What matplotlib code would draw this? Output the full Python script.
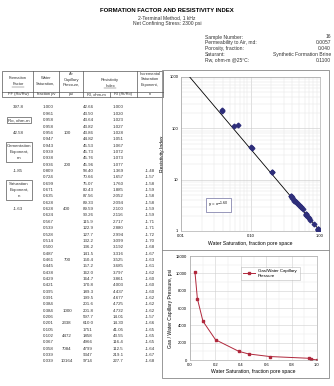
import numpy as np
import matplotlib.pyplot as plt
from matplotlib.patches import Rectangle
from matplotlib.lines import Line2D
from matplotlib.ticker import FixedLocator, NullFormatter, LogLocator

plt.rcParams['font.family'] = ['Liberation Sans', 'DejaVu Sans']

# table data
sw = [1.000, 0.961, 0.958, 0.958, 0.956, 0.947, 0.943, 0.939, 0.938, 0.936,
      0.809, 0.724, 0.699, 0.671, 0.635, 0.628, 0.628, 0.624,
      0.567, 0.539, 0.528, 0.514, 0.500, 0.487, 0.461, 0.445, 0.438, 0.429, 0.421,
      0.395, 0.391, 0.384, 0.384,
      0.206, 0.201, 0.105, 0.102, 0.067, 0.058, 0.039, 0.039]
pc = ['', '', '', '', '100', '', '', '', '', '200',
      '', '', '', '', '', '', '400', '',
      '', '', '', '', '', '', '700', '', '', '', '',
      '', '', '', '1000',
      '', '2338', '', '4472', '', '7084', '', '10164']
rt = ['42.66', '43.50', '43.64', '43.82', '43.86', '44.82', '45.53', '45.73', '45.76', '45.96',
      '58.40', '70.66', '75.07', '80.43', '87.56', '89.33', '89.59', '90.26',
      '115.9', '122.9', '127.7', '132.2', '136.2', '141.5', '150.4', '157.2', '162.0', '164.7', '170.8',
      '189.3', '199.5', '201.6', '201.8',
      '597.7', '610.0', '1751', '1858', '4966', '4799', '9347', '9714']
ri = [1.000, 1.020, 1.023, 1.027, 1.028, 1.051, 1.067, 1.072, 1.073, 1.077,
      1.369, 1.657, 1.760, 1.885, 2.052, 2.094, 2.100, 2.116,
      2.717, 2.880, 2.994, 3.099, 3.192, 3.316, 3.525, 3.685, 3.797, 3.861, 4.003,
      4.437, 4.677, 4.725, 4.732,
      14.01, 14.30, 41.05, 43.55, 116.4, 112.5, 219.1, 227.7]
ri_txt = ['1.000', '1.020', '1.023', '1.027', '1.028', '1.051', '1.067', '1.072', '1.073', '1.077',
          '1.369', '1.657', '1.760', '1.885', '2.052', '2.094', '2.100', '2.116',
          '2.717', '2.880', '2.994', '3.099', '3.192', '3.316', '3.525', '3.685', '3.797', '3.861', '4.003',
          '4.437', '4.677', '4.725', '4.732',
          '14.01', '14.30', '41.05', '43.55', '116.4', '112.5', '219.1', '227.7']
n_inc = [''] * 10 + ['-1.48', '-1.57', '-1.58', '-1.59', '-1.58', '-1.58', '-1.59', '-1.59',
                     '-1.71', '-1.71', '-1.72', '-1.70', '-1.68', '-1.67', '-1.63', '-1.61', '-1.62', '-1.60', '-1.60',
                     '-1.60', '-1.62', '-1.62', '-1.62',
                     '-1.57', '-1.66', '-1.65', '-1.65', '-1.65', '-1.64', '-1.67', '-1.68']

# capillary pressure curve
cap_sw = [0.039, 0.058, 0.102, 0.201, 0.384, 0.461, 0.628, 0.936, 0.956, 1.000]
cap_pc = [10164, 7084, 4472, 2338, 1000, 700, 400, 200, 100, 0]

n_exp = 1.60
info_labels = ['Sample Number:', 'Permeability to Air, md:', 'Porosity, fraction:',
               'Saturant:', 'Rw, ohm-m @25\u00b0C:']
info_values = ['16', '0.0057', '0.040', 'Synthetic Formation Brine', '0.1100']

W, H = 334, 386
fig = plt.figure(figsize=(W / 100, H / 100), dpi=100)
TC = '#333333'


def px(x, y):
    return x / W, 1 - y / H


def txt(x, y, s, size=3.2, ha='left', **kw):
    kw.setdefault('color', TC)
    fig.text(*px(x, y), s, fontsize=size, ha=ha, va='center', **kw)


def hline(x0, x1, y, c='#555555', lw=0.5):
    fig.add_artist(Line2D([x0 / W, x1 / W], [1 - y / H, 1 - y / H], color=c, lw=lw))


def vline(x, y0, y1, c='#555555', lw=0.5):
    fig.add_artist(Line2D([x / W, x / W], [1 - y0 / H, 1 - y1 / H], color=c, lw=lw))


def box(x0, y0, x1, y1, c='#555555', lw=0.5):
    fig.add_artist(Rectangle(px(x0, y1), (x1 - x0) / W, (y1 - y0) / H,
                             fill=False, ec=c, lw=lw))


# titles
txt(167, 11, 'FORMATION FACTOR AND RESISTIVITY INDEX', size=4.3, ha='center',
    weight='bold', color='black')
txt(167, 18, '2-Terminal Method, 1 kHz', size=3.6, ha='center')
txt(167, 24, 'Net Confining Stress: 2300 psi', size=3.6, ha='center')

for i, (lab, val) in enumerate(zip(info_labels, info_values)):
    txt(205, 37 + i * 5.8, lab, size=3.6)
    txt(331, 37 + i * 5.8, val, size=3.6, ha='right')

# table header
box(2, 71, 163, 97)
for x in [33, 59, 83, 137]:
    vline(x, 71, 97)
hline(2, 163, 91.5)
vline(110, 91.5, 97)
hs = 2.9
txt(18, 78, 'Formation', hs, 'center')
txt(18, 84, 'Factor', hs, 'center')
hline(12, 24, 86.5, c='#444444', lw=0.3)
txt(18, 94.3, 'FF (Ro/Rw)', hs, 'center')
txt(46, 78, 'Water', hs, 'center')
txt(46, 84, 'Saturation,', hs, 'center')
txt(46, 94.3, 'fraction pv', hs, 'center')
txt(71, 74, 'Air', hs, 'center')
txt(71, 79.5, 'Capillary', hs, 'center')
txt(71, 85, 'Pressure,', hs, 'center')
txt(71, 94.3, 'psi', hs, 'center')
txt(110, 80, 'Resistivity', hs, 'center')
txt(110, 86, 'Index', hs, 'center')
hline(104, 116, 88.3, c='#444444', lw=0.3)
txt(96.5, 94.3, 'RI, ohm-m', hs, 'center')
txt(123.5, 94.3, 'RI (Rt/Ro)', hs, 'center')
txt(150, 74, 'Incremental', hs, 'center')
txt(150, 79.5, 'Saturation', hs, 'center')
txt(150, 85, 'Exponent,', hs, 'center')
txt(150, 94.3, 'n', hs, 'center')

# table rows
y0, dy = 107.5, 6.35
for i in range(len(sw)):
    y = y0 + i * dy
    txt(43, y, '%.3f' % sw[i])
    txt(67, y, pc[i], ha='center')
    txt(83, y, rt[i])
    txt(113, y, ri_txt[i])
    txt(145, y, n_inc[i])

# left column summary
txt(18, y0, '397.8', ha='center')
box(7, y0 + 2 * dy - 3.2, 31, y0 + 2 * dy + 3.2)
txt(19, y0 + 2 * dy, 'Ro, ohm-m', ha='center')
txt(18, y0 + 4 * dy, '42.58', ha='center')
box(6, y0 + 6 * dy - 3.5, 32, y0 + 8 * dy + 3.5)
txt(19, y0 + 6 * dy, 'Cementation', ha='center')
txt(19, y0 + 7 * dy, 'Exponent,', ha='center')
txt(19, y0 + 8 * dy, 'm', ha='center')
txt(18, y0 + 10 * dy, '-1.85', ha='center')
box(6, y0 + 12 * dy - 3.5, 32, y0 + 14 * dy + 3.5)
txt(19, y0 + 12 * dy, 'Saturation', ha='center')
txt(19, y0 + 13 * dy, 'Exponent,', ha='center')
txt(19, y0 + 14 * dy, 'n', ha='center')
txt(18, y0 + 16 * dy, '-1.63', ha='center')

# chart frames
box(162, 70, 329, 378, c='#888888', lw=0.6)
hline(162, 329, 250, c='#888888', lw=0.6)

# resistivity index plot
ax1 = fig.add_axes([181 / W, 1 - 231 / H, 139 / W, 154 / H])
ax1.set_xscale('log')
ax1.set_yscale('log')
ax1.set_xlim(0.01, 1)
ax1.set_ylim(1, 1000)
xs = np.array([0.01, 1.0])
ax1.plot(xs, xs ** -n_exp, color='black', lw=0.6, zorder=3)
ax1.plot(sw, ri, 'D', color='#2E2E7A', ms=2.4, mec='#2E2E7A', zorder=4)
ax1.set_xticks([0.01, 0.1, 1.0])
ax1.set_xticklabels(['0.01', '0.10', '1.00'])
ax1.set_yticks([1, 10, 100, 1000])
ax1.set_yticklabels(['1', '10', '100', '1000'])
ax1.xaxis.set_minor_locator(LogLocator(base=10, subs=np.arange(2, 10), numticks=20))
ax1.yaxis.set_minor_locator(LogLocator(base=10, subs=np.arange(2, 10), numticks=20))
ax1.xaxis.set_minor_formatter(NullFormatter())
ax1.yaxis.set_minor_formatter(NullFormatter())
ax1.grid(True, which='major', color='#C8C8C8', lw=0.4)
ax1.grid(True, which='minor', color='#E2E2E2', lw=0.3)
ax1.tick_params(which='both', length=0, labelsize=3, pad=2)
for s in ax1.spines.values():
    s.set_color('#999999')
    s.set_linewidth(0.4)
ax1.set_xlabel('Water Saturation, fraction pore space', fontsize=3.6, labelpad=2)
ax1.set_ylabel('Resistivity Index', fontsize=3.6, labelpad=3)
ax1.text(0.035, 3.2, 'y = x$^{-1.60}$', fontsize=3.2, ha='center', va='center',
         bbox=dict(boxstyle='square,pad=0.5', fc='white', ec='#7070A0', lw=0.5))

# capillary pressure plot
ax2 = fig.add_axes([190 / W, 1 - 360 / H, 127 / W, 104 / H])
ax2.plot(cap_sw, cap_pc, '-s', color='#B0283C', lw=0.7, ms=1.5,
         label='Gas/Water Capillary\nPressure')
ax2.set_xlim(0, 1)
ax2.set_ylim(0, 12000)
ax2.set_xticks(np.arange(0, 1.01, 0.2))
ax2.set_xticklabels(['0.0', '0.2', '0.4', '0.6', '0.8', '1.0'])
ax2.set_yticks(range(0, 12001, 2000))
ax2.xaxis.set_minor_locator(FixedLocator(np.arange(0.1, 1.0, 0.2)))
ax2.yaxis.set_minor_locator(FixedLocator(range(1000, 12000, 2000)))
ax2.grid(True, which='major', color='#D0D0D0', lw=0.4)
ax2.grid(True, which='minor', color='#E6E6E6', lw=0.3)
ax2.tick_params(which='both', length=0, labelsize=3, pad=2)
for s in ax2.spines.values():
    s.set_color('#999999')
    s.set_linewidth(0.4)
ax2.set_xlabel('Water Saturation, fraction pore space', fontsize=3.6, labelpad=1.5)
ax2.set_ylabel('Gas / Water Capillary Pressure, psi', fontsize=3.6, labelpad=2)
leg = ax2.legend(loc='upper right', bbox_to_anchor=(0.88, 0.92), fontsize=3.2,
                 frameon=True, fancybox=False, edgecolor='#AAAAAA', handlelength=2.5,
                 borderpad=0.6)
leg.get_frame().set_linewidth(0.4)

fig.savefig('out.png', dpi=100)
